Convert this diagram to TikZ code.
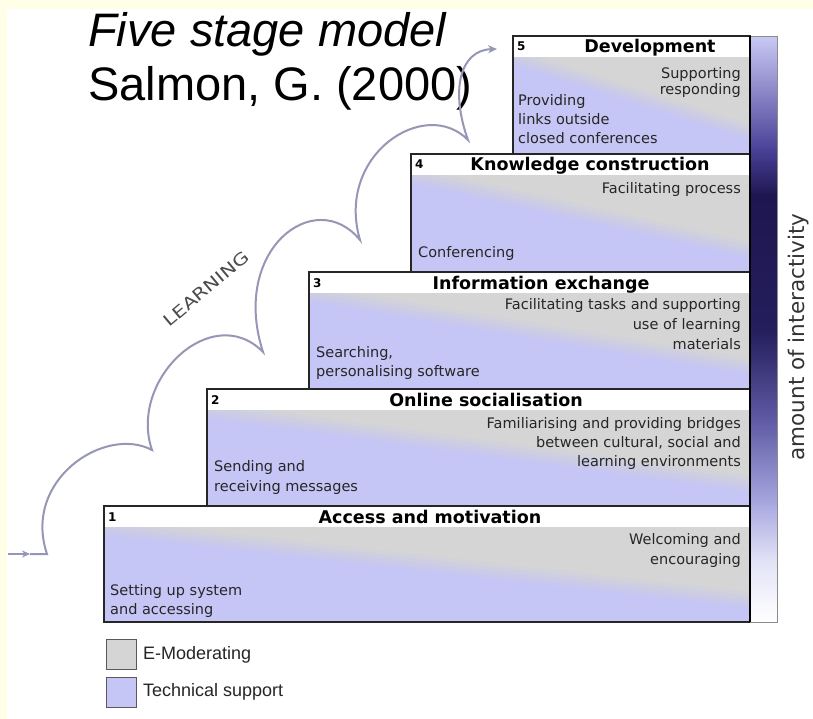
\documentclass[tikz,border=0pt]{standalone}
\usepackage{fontspec}
\setmainfont{Liberation Sans}
\newfontfamily\dv{DejaVu Sans}
\usetikzlibrary{arrows.meta}
\definecolor{cream}{RGB}{255,255,232}
\definecolor{emod}{RGB}{213,213,213}
\definecolor{tech}{RGB}{198,198,246}
\definecolor{curvec}{RGB}{150,150,182}
\definecolor{barA}{RGB}{200,200,245}
\definecolor{barB}{RGB}{72,64,150}
\definecolor{barC}{RGB}{30,22,80}
\definecolor{barD}{RGB}{36,30,92}
\definecolor{barE}{RGB}{95,90,165}
\definecolor{barF}{RGB}{170,170,225}
\definecolor{barG}{RGB}{226,226,246}
\tikzset{
  boxline/.style={draw=black!85, line width=1.3pt},
  bodytxt/.style={inner sep=0pt, font=\dv\fontsize{14.5}{17}\selectfont, text=black!85},
  hdrtxt/.style={inner sep=0pt, font=\dv\bfseries\fontsize{17.5}{20}\selectfont, anchor=base},
  numtxt/.style={inner sep=0pt, font=\dv\bfseries\fontsize{12}{14}\selectfont, anchor=base west},
  lgtxt/.style={inner sep=0pt, font=\fontsize{18}{20}\selectfont, anchor=west, text=black!85},
  lgbox/.style={draw=black!65, line width=1pt, minimum size=30pt, inner sep=0pt},
  curveline/.style={draw=curvec, line width=2pt},
  titletxt/.style={inner sep=0pt, anchor=base west, font=\fontsize{47}{50}\selectfont}
}
\newcommand\stagebox[3]{%
  \begin{scope}
    \clip (#1,#2+21) rectangle (750,#3);
    \fill[emod] (#1,#2) rectangle (750,#3);
    \foreach \o/\a in {-8/0.2,-4/0.25,0/0.3333,4/0.5,8/1}{
      \fill[tech, opacity=\a] (#1,#2+21+\o) -- (750,#3-22+\o) -- (750,#3+40) -- (#1,#3+40) -- cycle;
    }
  \end{scope}
  \fill[white] (#1,#2) rectangle (750,#2+21);
  \draw[boxline] (#1,#2) rectangle (750,#3);
}
\newcommand\txl[4]{\node[bodytxt, anchor=base west] (#1) at (#2,#3) {#4};}
\newcommand\txr[3]{\node[bodytxt, anchor=base east] (#1) at (741,#2) {#3};}
\begin{document}
\begin{tikzpicture}[x=1pt,y=-1pt]
\useasboundingbox (0,0) rectangle (813,719);
\fill[cream] (0,0) rectangle (813,719);
\fill[white] (7,9) rectangle (813,719);

% stages
\stagebox{513}{36}{154}
\stagebox{411}{154}{272}
\stagebox{309}{272}{389}
\stagebox{207}{389}{506}
\stagebox{104}{506}{622}

% interactivity bar
\shade[top color=barA, bottom color=barB] (751,37) rectangle (777,151);
\shade[top color=barB, bottom color=barC] (751,150) rectangle (777,196);
\shade[top color=barC, bottom color=barD] (751,195) rectangle (777,331);
\shade[top color=barD, bottom color=barE] (751,330) rectangle (777,421);
\shade[top color=barE, bottom color=barF] (751,420) rectangle (777,506);
\shade[top color=barF, bottom color=barG] (751,505) rectangle (777,561);
\shade[top color=barG, bottom color=white] (751,560) rectangle (777,622);
\draw[black!45, line width=0.9pt] (750,36) rectangle (777,622);
\draw[black, line width=2.6pt] (750,36) -- (750,622);
\node[inner sep=0pt, rotate=90, font=\dv\fontsize{21.5}{24}\selectfont, text=black!80] (inter) at (799,337) {amount of interactivity};

% headers
\node[numtxt] (n5) at (517,51) {5};
\node[numtxt] (n4) at (415,169) {4};
\node[numtxt] (n3) at (313,287) {3};
\node[numtxt] (n2) at (211,404) {2};
\node[numtxt] (n1) at (108,521) {1};
\node[hdrtxt] (h5) at (650,53) {Development};
\node[hdrtxt] (h4) at (590,171) {Knowledge construction};
\node[hdrtxt] (h3) at (541,289) {Information exchange};
\node[hdrtxt] (h2) at (486,406) {Online socialisation};
\node[hdrtxt] (h1) at (430,523) {Access and motivation};

% body texts
\txr{t5a}{79}{Supporting}
\txr{t5b}{95}{responding}
\txl{t5c}{518}{106}{Providing}
\txl{t5d}{518}{125}{links outside}
\txl{t5e}{518}{144}{closed conferences}
\txr{t4a}{194}{Facilitating process}
\txl{t4b}{418}{258}{Conferencing}
\txr{t3a}{309}{Facilitating tasks and supporting}
\txr{t3b}{329}{use of learning}
\txr{t3c}{349}{materials}
\txl{t3d}{316}{357}{Searching,}
\txl{t3e}{316}{376}{personalising software}
\txr{t2a}{428}{Familiarising and providing bridges}
\txr{t2b}{447}{between cultural, social and}
\txr{t2c}{466}{learning environments}
\txl{t2d}{214}{471}{Sending and}
\txl{t2e}{214}{491}{receiving messages}
\txr{t1a}{544}{Welcoming and}
\txr{t1b}{564}{encouraging}
\txl{t1c}{110}{595}{Setting up system}
\txl{t1d}{110}{614}{and accessing}

% legend
\node[lgbox, fill=emod] (lg1) at (121,654) {};
\node[lgbox, fill=tech] (lg2) at (121,692) {};
\node[lgtxt] (lt1) at (143,655) {E-Moderating};
\node[lgtxt] (lt2) at (143,692) {Technical support};

% title
\node[titletxt] (title1) at (88,47) {\itshape Five stage model};
\node[titletxt] (title2) at (88,101) {Salmon, G. (2000)};

% learning curve
\coordinate (s0) at (8,554);
\coordinate (m0) at (30,554);
\coordinate (p0) at (47,554);
\coordinate (c1) at (152,450);
\coordinate (c2) at (263,352);
\coordinate (c3) at (360,240);
\coordinate (c4) at (468,140);
\coordinate (e0) at (497,49);
\draw[curveline, -{Stealth[length=8pt,width=7pt]}] (s0) -- (m0);
\draw[curveline, line join=miter, -{Stealth[length=9pt,width=8pt]}] (m0) -- (p0)
  .. controls (22,480) and (105,425) .. (c1)
  .. controls (128,380) and (212,300) .. (c2)
  .. controls (230,250) and (315,185) .. (c3)
  .. controls (335,155) and (425,96) .. (c4)
  .. controls (450,90) and (460,50) .. (e0);
\node[inner sep=0pt, rotate=40, xscale=1.25, font=\dv\fontsize{16.5}{18}\selectfont, text=black!70] (learn) at (206,289) {LEARNING};
\end{tikzpicture}
\end{document}
